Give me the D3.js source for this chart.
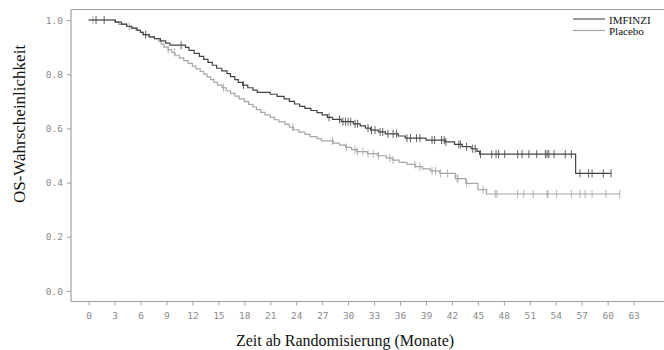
<!DOCTYPE html>
<html>
<head>
<meta charset="utf-8">
<script src="https://cdn.jsdelivr.net/npm/d3@7"></script>
<style>
  html, body { margin: 0; padding: 0; background: #fff; }
  svg { display: block; }
</style>
</head>
<body>
<svg id="chart" width="664" height="350"></svg>
<script>
// Kaplan-Meier overall survival, IMFINZI vs. Placebo
const xTicks = [0, 3, 6, 9, 12, 15, 18, 21, 24, 27, 30, 33, 36, 39, 42, 45, 48, 51, 54, 57, 60, 63];
const yTicks = [0.0, 0.2, 0.4, 0.6, 0.8, 1.0];
const seriesNames = ["IMFINZI", "Placebo"];

// step times (months) and survival after each step
const imfinziTimes = [0, 3.1, 3.8, 4.4, 5.0, 5.6, 6.0, 6.3, 7.0, 7.6, 8.3, 8.9, 9.4, 11.2, 11.6, 12.2, 12.8, 13.3, 13.8, 14.3, 14.8, 15.4, 16.0, 16.4, 16.9, 17.3, 17.8, 18.4, 19.0, 19.5, 21.0, 21.8, 22.6, 23.2, 23.8, 24.4, 25.0, 25.7, 26.4, 27.0, 27.6, 28.2, 29.2, 30.6, 31.4, 32.0, 32.6, 33.5, 34.3, 35.8, 36.6, 39.0, 41.2, 42.3, 43.2, 44.2, 44.9, 45.2, 56.3];
const imfinziSurv = [1.0, 0.992, 0.985, 0.977, 0.970, 0.962, 0.954, 0.946, 0.938, 0.931, 0.923, 0.915, 0.907, 0.899, 0.888, 0.877, 0.866, 0.855, 0.844, 0.833, 0.822, 0.812, 0.802, 0.791, 0.780, 0.770, 0.760, 0.750, 0.741, 0.733, 0.726, 0.718, 0.709, 0.700, 0.690, 0.681, 0.674, 0.666, 0.658, 0.650, 0.641, 0.633, 0.625, 0.617, 0.609, 0.601, 0.594, 0.587, 0.580, 0.572, 0.564, 0.557, 0.550, 0.541, 0.533, 0.525, 0.515, 0.505, 0.434];
const imfinziCensor = [0.86, 1.8, 6.6, 10.7, 17.9, 27.8, 29.0, 29.4, 29.7, 30.0, 30.3, 30.8, 31.1, 32.3, 32.7, 33.1, 33.7, 34.0, 34.6, 35.2, 35.6, 36.8, 37.2, 37.9, 38.3, 39.7, 40.0, 40.8, 41.1, 41.3, 42.8, 43.0, 43.7, 44.4, 44.7, 45.3, 46.6, 47.1, 47.4, 48.1, 49.6, 50.1, 50.9, 51.8, 52.8, 53.0, 53.2, 53.8, 55.1, 55.8, 56.8, 57.8, 58.2, 59.5, 60.4];

const placeboTimes = [0, 3.0, 3.5, 4.4, 4.9, 5.5, 6.0, 6.3, 7.0, 7.6, 8.1, 8.4, 8.7, 9.2, 9.6, 10.0, 10.5, 11.0, 11.5, 12.0, 12.4, 12.9, 13.3, 13.7, 14.1, 14.5, 14.9, 15.4, 15.9, 16.4, 16.9, 17.4, 18.0, 18.5, 19.0, 19.4, 19.9, 20.4, 21.0, 21.5, 22.0, 22.7, 23.2, 23.7, 24.3, 25.0, 25.6, 26.4, 26.9, 28.3, 29.0, 29.7, 30.4, 31.0, 32.2, 33.4, 34.4, 35.1, 35.9, 36.8, 37.8, 38.6, 39.5, 40.6, 42.4, 43.6, 45.0, 46.0];
const placeboSurv = [1.0, 0.992, 0.984, 0.976, 0.969, 0.962, 0.954, 0.946, 0.938, 0.931, 0.922, 0.911, 0.900, 0.890, 0.880, 0.870, 0.860, 0.850, 0.840, 0.830, 0.820, 0.810, 0.800, 0.790, 0.780, 0.770, 0.760, 0.750, 0.739, 0.729, 0.719, 0.709, 0.699, 0.689, 0.679, 0.669, 0.659, 0.650, 0.641, 0.632, 0.624, 0.615, 0.605, 0.595, 0.586, 0.578, 0.570, 0.562, 0.554, 0.546, 0.538, 0.530, 0.522, 0.514, 0.507, 0.499, 0.491, 0.483, 0.475, 0.467, 0.459, 0.451, 0.443, 0.434, 0.415, 0.397, 0.374, 0.358];
const placeboCensor = [0.5, 4.7, 9.2, 9.9, 15.6, 23.6, 28.2, 29.8, 30.8, 31.1, 31.7, 32.3, 32.9, 33.5, 34.8, 35.2, 37.7, 38.3, 39.7, 40.1, 40.7, 41.5, 42.6, 42.7, 43.7, 45.6, 47.0, 47.2, 49.6, 50.3, 51.4, 53.0, 53.1, 54.1, 55.8, 56.8, 57.4, 58.2, 59.8, 61.4];

const svg = d3.select("#chart");
const W = 664, H = 350;
const plotLeft = 71, plotTop = 9.5, plotBottom = 301.5, plotRight = W;

// x: 0 months at 88.6 px, 63 months at 633.6 px
const x = d3.scaleLinear().domain([0, 63]).range([88.6, 633.6]);
const y = d3.scaleLinear().domain([0, 1]).range([291, 20]);

const axisColor = "#a0a0a0";
const tickText = "#8a8a8a";
const mono = "'DejaVu Sans Mono', 'Liberation Mono', monospace";
const serif = "'Liberation Serif', 'Times New Roman', serif";

// frame: top line, left axis, bottom axis
svg.append("line").attr("x1", plotLeft).attr("x2", plotRight).attr("y1", plotTop).attr("y2", plotTop)
  .attr("stroke", axisColor).attr("stroke-width", 1.2);

const gx = svg.append("g").attr("transform", `translate(0,${plotBottom})`)
  .call(d3.axisBottom(x).tickValues(xTicks).tickFormat(d3.format("d")).tickSize(4).tickSizeOuter(0));
gx.select(".domain").remove();
gx.append("line").attr("x1", plotLeft).attr("x2", plotRight).attr("stroke", axisColor).attr("stroke-width", 1.2);
gx.selectAll(".tick line").attr("stroke", axisColor);
gx.selectAll(".tick text").attr("fill", tickText).attr("font-family", mono).attr("font-size", 9.5).attr("dy", "1.15em");

const gy = svg.append("g").attr("transform", `translate(${plotLeft},0)`)
  .call(d3.axisLeft(y).tickValues(yTicks).tickFormat(d3.format(".1f")).tickSize(4).tickSizeOuter(0));
gy.select(".domain").remove();
gy.append("line").attr("y1", plotTop).attr("y2", plotBottom).attr("stroke", axisColor).attr("stroke-width", 1.2);
gy.selectAll(".tick line").attr("stroke", axisColor);
gy.selectAll(".tick text").attr("fill", tickText).attr("font-family", mono).attr("font-size", 9.5).attr("x", -8);

// axis titles
svg.append("text").attr("x", 345).attr("y", 346).attr("text-anchor", "middle")
  .attr("font-family", serif).attr("font-size", 16).attr("fill", "#111")
  .text("Zeit ab Randomisierung (Monate)");
svg.append("text").attr("transform", "translate(25,124) rotate(-90)").attr("text-anchor", "middle")
  .attr("font-family", serif).attr("font-size", 17).attr("fill", "#111")
  .text("OS-Wahrscheinlichkeit");

// survival step curves with censor ticks
function drawSeries(times, surv, censor, color) {
  const end = d3.max(censor);
  const pts = times.map((t, i) => [t, surv[i]]);
  pts.push([end, surv[surv.length - 1]]);
  const line = d3.line().x(d => x(d[0])).y(d => y(d[1])).curve(d3.curveStepAfter);
  svg.append("path").datum(pts).attr("d", line)
    .attr("fill", "none").attr("stroke", color).attr("stroke-width", 1.2);
  const survAt = t => surv[Math.max(0, d3.bisectRight(times, t) - 1)];
  svg.append("g").selectAll("line").data(censor).join("line")
    .attr("x1", d => x(d)).attr("x2", d => x(d))
    .attr("y1", d => y(survAt(d)) - 4).attr("y2", d => y(survAt(d)) + 4)
    .attr("stroke", color).attr("stroke-width", 1).attr("opacity", 0.85);
}
drawSeries(placeboTimes, placeboSurv, placeboCensor, "#a6a6a6");
drawSeries(imfinziTimes, imfinziSurv, imfinziCensor, "#444444");

// legend
const legendColors = ["#555555", "#a6a6a6"];
const lg = svg.append("g");
seriesNames.forEach((name, i) => {
  const ly = 19 + i * 11.5;
  lg.append("line").attr("x1", 573).attr("x2", 605).attr("y1", ly).attr("y2", ly)
    .attr("stroke", legendColors[i]).attr("stroke-width", 1.2);
  lg.append("text").attr("x", 609).attr("y", ly + 4.5)
    .attr("font-family", serif).attr("font-size", 11).attr("fill", "#111").text(name);
});
</script>
</body>
</html>
